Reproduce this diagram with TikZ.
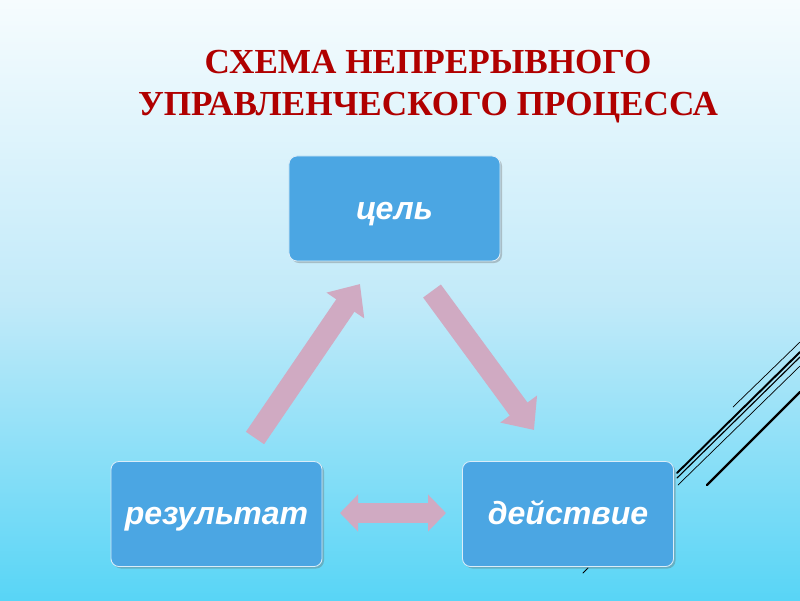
\documentclass[tikz,border=0pt]{standalone}
\usepackage{fontspec}
\setmainfont{Liberation Serif}
\newfontfamily\boxfont{Liberation Sans}
\usetikzlibrary{arrows.meta,shadows}
\definecolor{boxblue}{HTML}{4BA6E3}
\definecolor{titlered}{HTML}{B00000}
\definecolor{arrowpink}{HTML}{D0AAC2}
\definecolor{bgtop}{HTML}{F6FCFE}
\definecolor{bgmid}{HTML}{C2EAF9}
\definecolor{bgbot}{HTML}{58D5F6}
\tikzset{
  stepbox/.style={draw=white!80!boxblue, line width=0.6pt, fill=boxblue, rounded corners=0.2cm,
    minimum width=5.275cm, minimum height=2.625cm, inner sep=0pt,
    text height=15.5pt, text depth=0pt,
    text=white, font=\boxfont\bfseries\itshape\fontsize{22.8pt}{27pt}\selectfont,
    drop shadow={shadow xshift=0.05cm, shadow yshift=-0.05cm, opacity=0.35, fill=black!60}},
  bigarrow/.style={draw=arrowpink, line width=0.55cm, -{Triangle[width=1.1cm,length=0.65cm]}},
  dblarrow/.style={draw=arrowpink, line width=0.5cm, {Triangle[width=0.9cm,length=0.45cm]}-{Triangle[width=0.9cm,length=0.45cm]}},
  deco/.style={draw=black, line cap=round}
}
\begin{document}
\begin{tikzpicture}[x=0.025cm,y=-0.025cm]
\useasboundingbox (0,0) rectangle (800,600);
\shade[top color=bgtop, bottom color=bgbot, middle color=bgmid] (0,0) rectangle (800,600);

% decorative lines
\draw[deco, line width=0.5pt] (733,407) -- (800,342);
\draw[deco, line width=1.4pt] (677,473) -- (800,352);
\draw[deco, line width=0.8pt] (677,478) -- (800,357);
\draw[deco, line width=0.5pt] (678,485) -- (800,366);
\draw[deco, line width=1.6pt] (707,485) -- (800,392);
\draw[deco, line width=0.6pt] (583,573) -- (588,568);

% title
\node[text=titlered, font=\bfseries\fontsize{25pt}{29.8pt}\selectfont, align=center] (title) at (428,87)
  {СХЕМА НЕПРЕРЫВНОГО\\УПРАВЛЕНЧЕСКОГО ПРОЦЕССА};

% boxes
\node[stepbox] (goal) at (394.5,208.5) {цель};
\node[stepbox] (result) at (216.5,514) {результат};
\node[stepbox] (action) at (568,514) {действие};

% arrows
\coordinate (a1s) at (255,438);
\coordinate (a1e) at (360,284);
\coordinate (a2s) at (432,291);
\coordinate (a2e) at (534,430);
\coordinate (d1) at (340,513);
\coordinate (d2) at (446,513);
\draw[bigarrow] (a1s) -- (a1e);
\draw[bigarrow] (a2s) -- (a2e);
\draw[dblarrow] (d1) -- (d2);
\end{tikzpicture}
\end{document}
